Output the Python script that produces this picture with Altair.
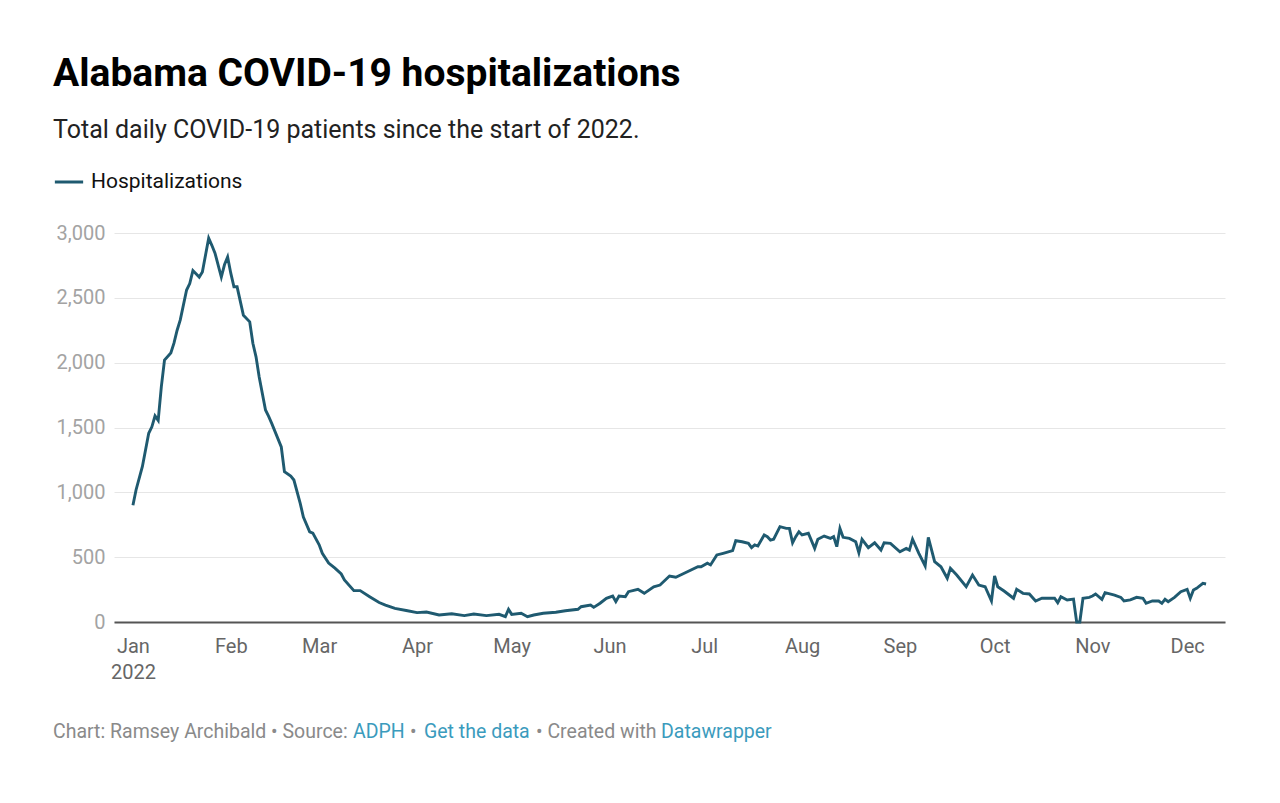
import altair as alt
import pandas as pd

# ---- data ----
# day offsets from 1 Jan 2022 and daily COVID-19 hospitalizations
day_of_2022 = [
    0, 1, 3, 5, 6, 7, 8, 9, 10, 12, 13, 14, 15, 17, 18, 19, 21, 22, 24, 25, 26, 28, 29, 30,
    31, 32, 33, 35, 37, 38, 39, 40, 42, 43, 44, 47, 48, 50, 51, 53, 54, 56, 57,
    59, 60, 62, 64, 66, 67, 70, 72, 75, 78, 80, 83, 87,
    90, 93, 97, 101, 105, 108, 112, 116, 118, 119,
    120, 123, 125, 127, 130, 134, 137, 141, 142, 145, 146, 148, 150,
    152, 153, 154, 156, 157, 160, 162, 165, 167, 170, 172, 175, 179, 180,
    182, 183, 185, 187, 190, 191, 193, 195, 196, 197, 198, 200, 201, 202, 203, 205, 207, 208, 209, 210, 211,
    212, 214, 216, 217, 219, 221, 222, 223, 224, 225, 227, 229, 230, 231, 233, 235, 237, 238, 240,
    243, 245, 246, 247, 249, 251, 252, 254, 256, 258, 259, 261, 264, 266, 268, 270, 272,
    273, 274, 276, 279, 280, 282, 284, 286, 288, 292, 293, 294, 296, 298, 299, 300, 301, 303,
    304, 305, 307, 308, 311, 313, 314, 316, 318, 320, 321, 323, 325, 326, 327, 328, 330, 332,
    334, 335, 336, 337, 339, 340,
]
hospitalizations = [
    900, 1020, 1200, 1455, 1505, 1590, 1555, 1815, 2020, 2075, 2150, 2250, 2330, 2560, 2610, 2710, 2660, 2700, 2960, 2905, 2845, 2660, 2755, 2815,
    2690, 2585, 2585, 2365, 2315, 2150, 2045, 1890, 1635, 1585, 1530, 1350, 1160, 1125, 1095, 915, 810, 695, 685,
    595, 530, 455, 415, 370, 325, 242, 242, 195, 150, 130, 105, 87,
    72, 77, 54, 64, 49, 62, 49, 59, 41, 98,
    59, 67, 41, 54, 67, 75, 87, 98, 118, 131, 113, 145, 183,
    200, 157, 200, 195, 234, 252, 221, 272, 285, 355, 345, 380, 426, 426,
    453, 440, 517, 530, 550, 627, 619, 607, 573, 594, 586, 671, 658, 632, 638, 735, 722, 722, 611, 658, 696,
    671, 684, 568, 638, 663, 645, 658, 581, 722, 653, 645, 619, 534, 638, 573, 611, 555, 611, 607,
    542, 568, 555, 638, 530, 432, 653, 465, 426, 337, 414, 362, 272, 362, 285, 272, 162,
    355, 272, 239, 183, 252, 221, 216, 162, 183, 183, 149, 195, 170, 177, 0, 0, 183, 190,
    200, 216, 175, 226, 208, 190, 162, 170, 190, 183, 144, 162, 162, 144, 175, 157, 190, 234,
    252, 183, 247, 260, 298, 293,
]
series_name = "Hospitalizations"
y_ticks = [0, 500, 1000, 1500, 2000, 2500, 3000]

title_text = "Alabama COVID-19 hospitalizations"
subtitle_text = "Total daily COVID-19 patients since the start of 2022."
footer_parts = [
    ("Chart: Ramsey Archibald • Source:", "#8a8a8a"),
    ("ADPH", "#3b9bbd"),
    ("•", "#8a8a8a"),
    ("Get the data", "#3b9bbd"),
    ("• Created with", "#8a8a8a"),
    ("Datawrapper", "#3b9bbd"),
]

assert len(day_of_2022) == len(hospitalizations)

dates = pd.Timestamp("2022-01-01") + pd.to_timedelta(day_of_2022, unit="D")
df = pd.DataFrame({
    "date": dates.strftime("%Y-%m-%dT00:00:00"),
    "value": hospitalizations,
    "series": series_name,
})

FONT = "Roboto"
LINE_COLOR = "#1f5a70"

x_enc = alt.X(
    "date:T",
    scale=alt.Scale(domain=["2021-12-26T00:00:00", "2022-12-13T00:00:00"]),
    axis=alt.Axis(
        title=None,
        values=[alt.DateTime(year=2022, month=m, date=1) for m in range(1, 13)],
        labelExpr="month(datum.value) == 0 ? [timeFormat(datum.value, '%b'), timeFormat(datum.value, '%Y')] : timeFormat(datum.value, '%b')",
        labelFont=FONT,
        labelFontSize=20,
        labelColor="#666666",
        labelLineHeight=26,
        labelPadding=14,
        labelAlign="center",
        ticks=False,
        tickSize=0,
        grid=False,
        domain=True,
        domainColor="#555555",
        domainWidth=2,
    ),
)

y_enc = alt.Y(
    "value:Q",
    scale=alt.Scale(domain=[0, 3000], nice=False),
    axis=alt.Axis(
        title=None,
        values=y_ticks,
        format=",.0f",
        labelFont=FONT,
        labelFontSize=20,
        labelColor="#a3a3a3",
        labelPadding=9,
        ticks=False,
        domain=False,
        grid=True,
        gridColor="#e6e6e6",
        gridWidth=1,
    ),
)

line = alt.Chart(df).mark_line(strokeWidth=2.9).encode(
    x=x_enc,
    y=y_enc,
    color=alt.Color(
        "series:N",
        scale=alt.Scale(domain=[series_name], range=[LINE_COLOR]),
        legend=alt.Legend(
            title=None,
            orient="none",
            legendX=-61,
            legendY=-67,
            symbolType="stroke",
            symbolSize=800,
            symbolStrokeWidth=3,
            labelFont=FONT,
            labelFontSize=21,
            labelColor="#111111",
            labelOffset=6,
            padding=0,
        ),
    ),
)

# footer pieces (text annotations)
footer_x = [-61, 239, 296, 310, 422, 547]
footer_layers = []
for (txt, col), fx in zip(footer_parts, footer_x):
    footer_layers.append(
        alt.Chart(pd.DataFrame({"t": [txt]})).mark_text(
            align="left", baseline="middle", font=FONT, fontSize=19.5, color=col
        ).encode(text="t:N", x=alt.value(fx), y=alt.value(499))
    )

chart = alt.layer(line, *footer_layers).properties(
    width=1111,
    height=389,
    title=alt.Title(
        title_text,
        subtitle=subtitle_text,
        anchor="start",
        frame="group",
        dx=-61,
        offset=23,
        font=FONT,
        fontSize=39,
        fontWeight="bold",
        color="#000000",
        subtitleFont=FONT,
        subtitleFontSize=25,
        subtitleColor="#222222",
        subtitlePadding=24,
    ),
    autosize=alt.AutoSizeParams(type="none"),
    padding={"left": 106, "top": 225, "right": 47, "bottom": 173},
    background="white",
).configure_view(stroke=None)

chart.save("out.html", embed_options={"renderer": "svg", "actions": False})
